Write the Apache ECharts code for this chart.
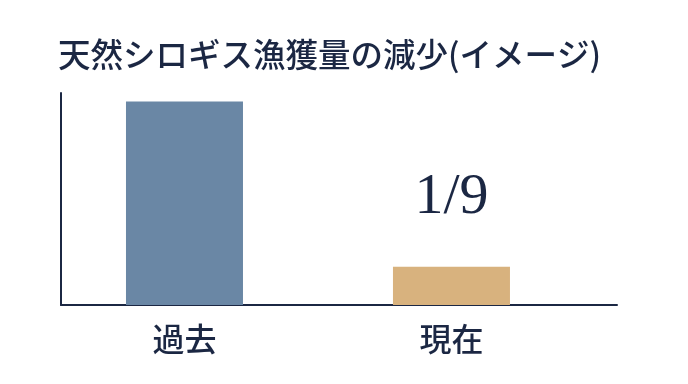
<!DOCTYPE html>
<html>
<head>
<meta charset="utf-8">
<script src="https://cdn.jsdelivr.net/npm/echarts@6/dist/echarts.min.js"></script>
<style>
  html, body { margin: 0; padding: 0; background: #fff; }
  #chart { width: 688px; height: 384px; }
</style>
</head>
<body>
<div id="chart"></div>
<script>
// data
const categories = ['過去', '現在']
const positions = [0, 1]
const values = [96, 18]
const barColors = ['#6a87a5', '#d8b27e']
const notes = ['', '1/9']

const navy = '#1b2743'

const chart = echarts.init(document.getElementById('chart'))

chart.setOption({
  animation: false,
  backgroundColor: '#ffffff',
  title: {
    text: '天然シロギス漁獲量の減少(イメージ)',
    left: 53,
    top: 33,
    textStyle: {
      fontFamily: 'Noto Sans CJK JP',
      fontSize: 32.5,
      fontWeight: 500,
      color: navy
    }
  },
  grid: {
    left: 61,
    right: 71,
    top: 93,
    bottom: 79
  },
  xAxis: {
    type: 'value',
    min: -0.4625,
    max: 1.62,
    splitLine: { show: false },
    axisTick: { show: false },
    axisLine: { show: true, onZero: false, lineStyle: { color: navy, width: 2 } },
    axisLabel: {
      customValues: positions,
      margin: 18,
      fontFamily: 'Noto Sans CJK JP',
      fontSize: 32,
      fontWeight: 500,
      color: navy,
      formatter: function(v) {
        return categories[Math.round(v)]
      }
    }
  },
  yAxis: {
    type: 'value',
    min: 0,
    max: 100,
    splitLine: { show: false },
    axisTick: { show: false },
    axisLabel: { show: false },
    axisLine: { show: true, onZero: false, lineStyle: { color: navy, width: 2 } }
  },
  series: [
    {
      type: 'bar',
      barWidth: 117,
      data: positions.map((x, i) => ({
        value: [x, values[i]],
        itemStyle: { color: barColors[i] }
      })),
      label: {
        show: true,
        position: 'top',
        distance: 40,
        fontFamily: 'Liberation Serif',
        fontSize: 58,
        color: navy,
        formatter: function(p) {
          return notes[p.dataIndex]
        }
      }
    }
  ]
})
</script>
</body>
</html>
